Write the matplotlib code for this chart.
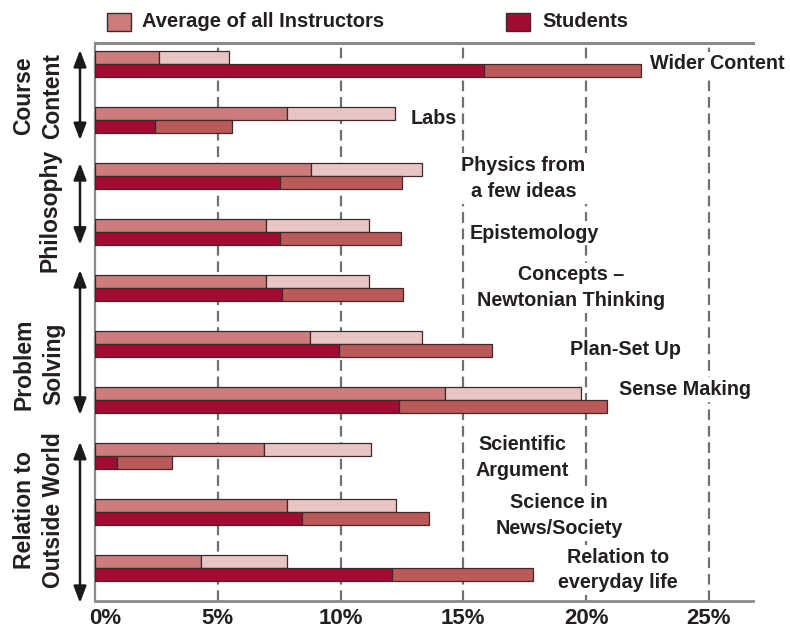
import matplotlib
matplotlib.use("Agg")
import matplotlib.pyplot as plt
import matplotlib.transforms as mtransforms
from matplotlib.patches import Rectangle

# ---------------- data ----------------
categories = ["Wider Content", "Labs", "Physics from\na few ideas", "Epistemology",
              "Concepts \u2013\nNewtonian Thinking", "Plan-Set Up", "Sense Making",
              "Scientific\nArgument", "Science in\nNews/Society", "Relation to\neveryday life"]
instr_avg = [2.6, 7.8, 8.8, 6.95, 6.95, 8.75, 14.25, 6.9, 7.8, 4.3]
instr_upper = [5.45, 12.2, 13.3, 11.15, 11.15, 13.3, 19.8, 11.25, 12.25, 7.8]
stud_avg = [15.85, 2.45, 7.55, 7.55, 7.6, 9.95, 12.4, 0.9, 8.45, 12.1]
stud_upper = [22.25, 5.6, 12.5, 12.45, 12.55, 16.15, 20.85, 3.15, 13.6, 17.85]
groups = ["Course\nContent", "Philosophy", "Problem\nSolving", "Relation to\nOutside World"]
legend_labels = ["Average of all Instructors", "Students"]
xticks = [0, 5, 10, 15, 20, 25]
xtick_labels = ["0%", "5%", "10%", "15%", "20%", "25%"]

# ---------------- style ----------------
plt.rcParams["font.family"] = ["Liberation Sans", "DejaVu Sans"]
TXT = "#231f20"
C_I1, C_I2 = "#cb7c7b", "#e8c5c2"
C_S1, C_S2 = "#a20c33", "#bc5a5b"
EDGE = "#3a2a2a"
GRID = "#707070"

fig = plt.figure(figsize=(7.9, 6.32), dpi=100)
ax = fig.add_axes([95 / 790, 1 - 601 / 632, (753 - 95) / 790, (601 - 43) / 632])

h = 0.23
ys = list(range(len(categories)))
yi = [y - h / 2 for y in ys]
yst = [y + h / 2 for y in ys]
ax.barh(yi, instr_avg, height=h, color=C_I1, edgecolor=EDGE, lw=0.9, zorder=3)
ax.barh(yi, [u - a for u, a in zip(instr_upper, instr_avg)], left=instr_avg, height=h,
        color=C_I2, edgecolor=EDGE, lw=0.9, zorder=3)
ax.barh(yst, stud_avg, height=h, color=C_S1, edgecolor=EDGE, lw=0.9, zorder=3)
ax.barh(yst, [u - a for u, a in zip(stud_upper, stud_avg)], left=stud_avg, height=h,
        color=C_S2, edgecolor=EDGE, lw=0.9, zorder=3)

ax.set_xlim(0, 26.8)
ax.set_ylim(9.595, -0.375)
ax.set_yticks([])
ax.set_xticks(xticks)
ax.set_xticklabels(xtick_labels, fontsize=16, fontweight="bold", color=TXT)
ax.tick_params(axis="x", length=0, pad=5)
lbl0 = ax.get_xticklabels()[0]
lbl0.set_ha("left")
lbl0.set_transform(lbl0.get_transform() +
                   mtransforms.ScaledTranslation(-6 / 100, 0, fig.dpi_scale_trans))
for x in xticks[1:]:
    ax.axvline(x, color=GRID, lw=1.6, linestyle=(0, (4.8, 2.6)), zorder=1)

ax.spines["right"].set_visible(False)
ax.spines["top"].set_color("#8a8a8a"); ax.spines["top"].set_linewidth(2.2)
ax.spines["bottom"].set_color("#8a8a8a"); ax.spines["bottom"].set_linewidth(2.0)
ax.spines["left"].set_color("#8a8a8a"); ax.spines["left"].set_linewidth(1.6)

# bar labels (x in %, y in row units)
label_pos = [(22.6, 0.0, "left"), (12.85, 0.97, "left"), (17.45, 2.05, "center"),
             (17.9, 3.02, "center"), (19.4, 4.0, "center"), (21.6, 5.1, "center"),
             (24.05, 5.82, "center"), (17.4, 7.03, "center"), (18.9, 8.07, "center"),
             (21.3, 9.04, "center")]
for lab, (x, y, ha) in zip(categories, label_pos):
    ax.text(x, y, lab, ha=ha, va="center", fontsize=14.2, fontweight="bold", color=TXT,
            linespacing=1.45, zorder=4, clip_on=False,
            bbox=dict(boxstyle="square,pad=0.15", fc="white", ec="none"))

# group labels and arrows
trans = mtransforms.blended_transform_factory(fig.transFigure, ax.transData)
arrow_spans = [(-0.25, 1.36), (1.77, 3.23), (3.68, 6.27), (6.75, 9.63)]
group_pos = [(38 / 790, 0.57), (50 / 790, 2.61), (39 / 790, 5.36), (39 / 790, 7.97)]
for g, (y0, y1), (gx, gy) in zip(groups, arrow_spans, group_pos):
    ax.annotate("", xy=(80 / 790, y0), xytext=(80 / 790, y1), xycoords=trans,
                textcoords=trans, annotation_clip=False,
                arrowprops=dict(arrowstyle="<|-|>,head_length=1.0,head_width=0.38",
                                color="#1a1a1a", lw=1.8, shrinkA=0, shrinkB=0))
    ax.text(gx, gy, g, transform=trans, rotation=90, ha="center", va="center",
            multialignment="center", fontsize=16.5, fontweight="bold", color=TXT,
            linespacing=1.35)

# legend
for (x0, x1, col), lab, tx in zip([(107, 131, C_I1), (506, 530, C_S1)], legend_labels,
                                  [142, 542]):
    fig.patches.append(Rectangle((x0 / 790, 1 - 30.7 / 632), (x1 - x0) / 790, 18 / 632,
                                 transform=fig.transFigure, fc=col, ec=EDGE, lw=1.0))
    fig.text(tx / 790, 1 - 21.5 / 632, lab, ha="left", va="center", fontsize=14.5,
             fontweight="bold", color=TXT)

fig.savefig("out.png", dpi=100)
